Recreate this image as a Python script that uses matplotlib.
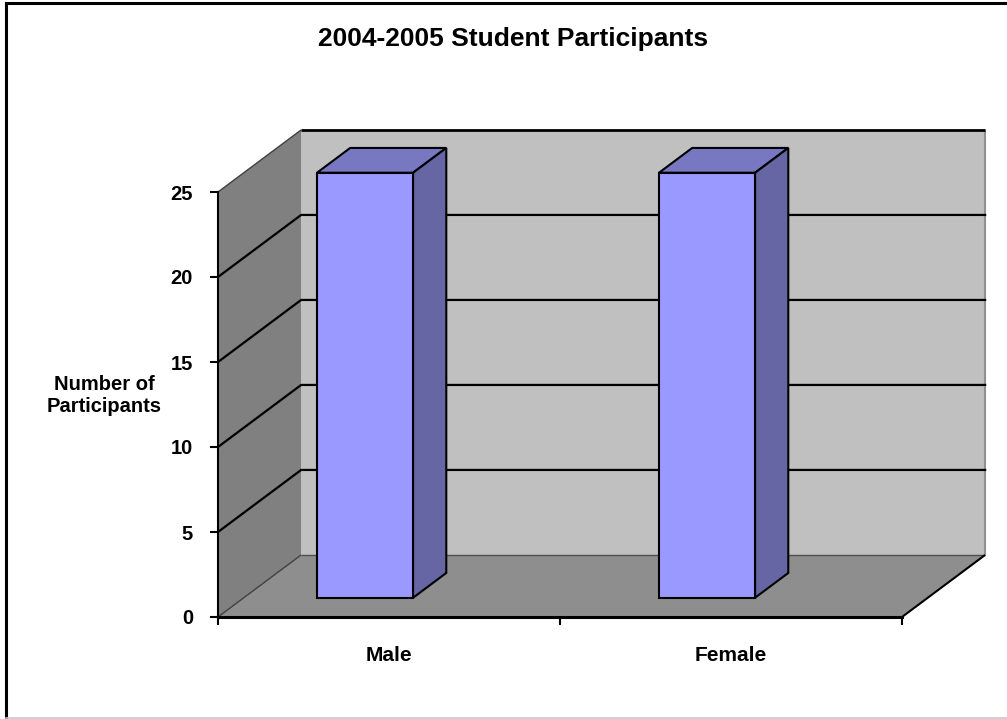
import matplotlib
matplotlib.use("Agg")
import matplotlib.pyplot as plt
from matplotlib.patches import Polygon
from matplotlib.lines import Line2D

# ====== DATA ======
categories = ["Male", "Female"]
participants = [25, 25]
y_ticks = [0, 5, 10, 15, 20, 25]
title = "2004-2005 Student Participants"
y_label = "Number of\nParticipants"

# ====== 3-D LOOK ======
depth_x = 0.243   # depth shift in category units
depth_y = 3.65    # depth shift in value units
bar_front = 0.31  # depth fraction of bar front face
bar_back = 0.71   # depth fraction of bar back face
bar_left = 0.214  # bar start inside its category slot
bar_width = 0.281

side_color = "#808080"
wall_color = "#C0C0C0"
floor_color = "#8E8E8E"
face_color = "#9999FF"
top_color = "#7777C2"
right_color = "#6666A4"

plt.rcParams["font.family"] = ["Liberation Sans", "DejaVu Sans"]
plt.rcParams["font.weight"] = "bold"


def proj(x, y, d):
    return (x + d * depth_x, y + d * depth_y)


W, H = 1007, 719
fig = plt.figure(figsize=(W / 100, H / 100), dpi=100)
fig.patch.set_facecolor("white")

# chart frame (left/top dark, bottom light)
fig.add_artist(Line2D([6 / W, 6 / W], [0, 1 - 3 / H], color="black", linewidth=2.2))
fig.add_artist(Line2D([6 / W, 1], [1 - 3 / H, 1 - 3 / H], color="black", linewidth=2.2))
fig.add_artist(Line2D([6 / W, 1], [1.5 / H, 1.5 / H], color="#C8C8C8", linewidth=1.2))

ax = fig.add_axes([218 / W, 102 / H, 684 / W, 425 / H])
ax.set_facecolor("none")
n = len(categories)
top = y_ticks[-1]
ax.set_xlim(0, n)
ax.set_ylim(0, top)


def poly(pts, fc, ec="none", lw=0, z=1):
    ax.add_patch(Polygon(pts, closed=True, facecolor=fc, edgecolor=ec,
                         linewidth=lw, clip_on=False, zorder=z, joinstyle="miter"))


# walls and floor
poly([proj(0, 0, 0), proj(0, top, 0), proj(0, top, 1), proj(0, 0, 1)], side_color)
poly([proj(0, 0, 1), proj(n, 0, 1), proj(n, top, 1), proj(0, top, 1)], wall_color)
poly([proj(0, 0, 0), proj(n, 0, 0), proj(n, 0, 1), proj(0, 0, 1)], floor_color)

# wall edges
for pts, c, lw in [
    ([proj(0, top, 0), proj(0, top, 1)], "#404040", 1.0),
    ([proj(0, 0, 0), proj(0, 0, 1)], "#404040", 1.0),
    ([proj(0, 0, 1), proj(n, 0, 1)], "#505050", 1.0),
    ([proj(n, 0, 1), proj(n, top, 1)], "#909090", 1.5),
    ([proj(n, 0, 0), proj(n, 0, 1)], "black", 1.5),
    ([proj(0, top, 1), proj(n, top, 1)], "black", 2.0),
]:
    xs, ys = zip(*pts)
    ax.plot(xs, ys, color=c, linewidth=lw, clip_on=False, zorder=2,
            solid_capstyle="butt")

# gridlines across side wall and back wall
for v in y_ticks[1:-1]:
    xs, ys = zip(proj(0, v, 0), proj(0, v, 1), proj(n, v, 1))
    ax.plot(xs, ys, color="black", linewidth=1.6, clip_on=False, zorder=2)

# bars
for i, v in enumerate(participants):
    x0 = i + bar_left
    x1 = x0 + bar_width
    f, b = bar_front, bar_back
    poly([proj(x0, v, f), proj(x1, v, f), proj(x1, v, b), proj(x0, v, b)],
         top_color, "black", 1.5, 3)
    poly([proj(x1, 0, f), proj(x1, 0, b), proj(x1, v, b), proj(x1, v, f)],
         right_color, "black", 1.5, 3)
    poly([proj(x0, 0, f), proj(x1, 0, f), proj(x1, v, f), proj(x0, v, f)],
         face_color, "black", 1.5, 4)

# axes
for s in ["top", "right"]:
    ax.spines[s].set_visible(False)
ax.spines["left"].set_linewidth(1.5)
ax.spines["bottom"].set_linewidth(2.2)
ax.spines["left"].set_zorder(5)
ax.spines["bottom"].set_zorder(5)

ax.set_yticks(y_ticks)
ax.set_yticklabels([str(t) for t in y_ticks], fontsize=14.5, fontweight="bold")
ax.tick_params(axis="y", direction="out", length=6, width=1.5, pad=12)

ax.set_xticks(range(n + 1))
ax.set_xticklabels([])
ax.tick_params(axis="x", which="major", direction="out", length=6, width=1.5)
ax.set_xticks([i + 0.5 for i in range(n)], minor=True)
ax.set_xticklabels(categories, minor=True, fontsize=15, fontweight="bold")
ax.tick_params(axis="x", which="minor", length=0, pad=21)

fig.text(104 / W, 1 - 396 / H, y_label, ha="center", va="center",
         fontsize=14.5, fontweight="bold", multialignment="center",
         linespacing=1.2)
fig.text(513 / W, 1 - 39 / H, title, ha="center", va="center",
         fontsize=19, fontweight="bold")

fig.savefig("out.png", dpi=100)
